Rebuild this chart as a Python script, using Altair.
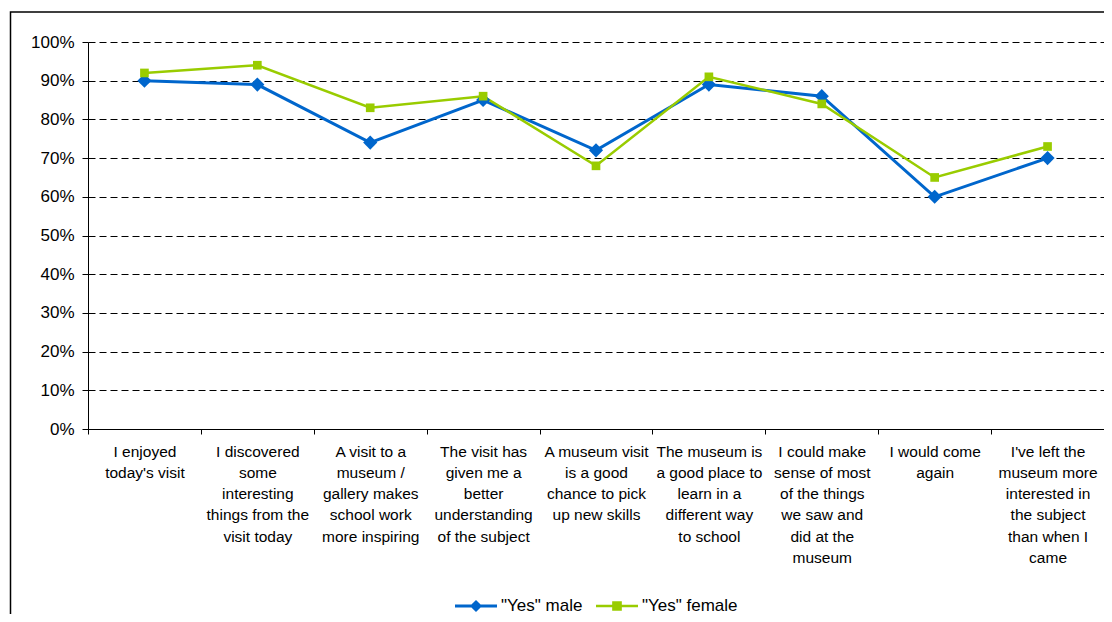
import altair as alt
import pandas as pd

# ---- data ----
category_lines = [
    ["I enjoyed", "today's visit"],
    ["I discovered", "some", "interesting", "things from the", "visit today"],
    ["A visit to a", "museum /", "gallery makes", "school work", "more inspiring"],
    ["The visit has", "given me a", "better", "understanding", "of the subject"],
    ["A museum visit", "is a good", "chance to pick", "up new skills"],
    ["The museum is", "a good place to", "learn in a", "different way", "to school"],
    ["I could make", "sense of most", "of the things", "we saw and", "did at the", "museum"],
    ["I would come", "again"],
    ["I've left the", "museum more", "interested in", "the subject", "than when I", "came"],
]
categories = ["|".join(lines) for lines in category_lines]

series_names = ['"Yes" male', '"Yes" female']
male_values = [0.90, 0.89, 0.74, 0.85, 0.72, 0.89, 0.86, 0.60, 0.70]
female_values = [0.92, 0.94, 0.83, 0.86, 0.68, 0.91, 0.84, 0.65, 0.73]
y_tick_values = [0.0, 0.1, 0.2, 0.3, 0.4, 0.5, 0.6, 0.7, 0.8, 0.9, 1.0]

series_colors = ["#0066CC", "#99CC00"]
marker_shapes = ["diamond", "square"]
marker_sizes = [200, 75]
line_widths = [3, 2.5]
legend_shapes = [
    "M-1,-0.07L1,-0.07L1,0.07L-1,0.07Z M0,-0.29L0.29,0L0,0.29L-0.29,0Z",
    "M-1,-0.06L1,-0.06L1,0.06L-1,0.06Z M-0.23,-0.23L0.23,-0.23L0.23,0.23L-0.23,0.23Z",
]

rows = []
for name, vals in zip(series_names, [male_values, female_values]):
    for cat, v in zip(categories, vals):
        rows.append({"category": cat, "series": name, "value": v})
df = pd.DataFrame(rows)

FONT = "Liberation Sans"

x_enc = alt.X(
    "category:N",
    sort=categories,
    scale=alt.Scale(type="band", paddingInner=0, paddingOuter=0),
    axis=alt.Axis(
        title=None,
        labelAngle=0,
        labelExpr="split(datum.label, '|')",
        tickBand="extent",
        grid=False,
        domainColor="#000000",
        domainWidth=1,
        tickColor="#000000",
        tickSize=5,
        labelFont=FONT,
        labelFontSize=15.5,
        labelColor="#000000",
        labelLineHeight=21.3,
        labelPadding=10,
        labelBaseline="top",
        labelOverlap=False,
        labelLimit=300,
    ),
)
y_enc = alt.Y(
    "value:Q",
    scale=alt.Scale(domain=[0, 1], nice=False),
    axis=alt.Axis(
        title=None,
        values=y_tick_values,
        format=".0%",
        grid=True,
        gridColor="#000000",
        gridDash=[7, 4],
        gridWidth=1,
        domainColor="#000000",
        domainWidth=1,
        tickColor="#000000",
        tickSize=6,
        labelPadding=8,
        labelFont=FONT,
        labelFontSize=17,
        labelColor="#000000",
    ),
)

color_scale = alt.Scale(domain=series_names, range=series_colors)

base = alt.Chart(df)

lines = base.mark_line().encode(
    x=x_enc,
    y=y_enc,
    color=alt.Color("series:N", scale=color_scale, legend=None),
    strokeWidth=alt.StrokeWidth(
        "series:O", scale=alt.Scale(domain=series_names, range=line_widths), legend=None
    ),
)

points = base.mark_point(filled=True, opacity=1).encode(
    x=x_enc,
    y=y_enc,
    color=alt.Color("series:N", scale=color_scale, legend=None),
    shape=alt.Shape(
        "series:N", scale=alt.Scale(domain=series_names, range=marker_shapes), legend=None
    ),
    size=alt.Size(
        "series:O", scale=alt.Scale(domain=series_names, range=marker_sizes), legend=None
    ),
)

legend_def = alt.Legend(
    title=None,
    orient="none",
    legendX=367,
    legendY=543,
    direction="horizontal",
    padding=0,
    symbolSize=1764,
    symbolStrokeWidth=0,
    labelOffset=4,
    columnPadding=13,
    labelFont=FONT,
    labelFontSize=17,
    labelColor="#000000",
)

legend_layer = base.transform_filter("datum.value < 0").mark_point(
    filled=True, opacity=1
).encode(
    x=x_enc,
    y=y_enc,
    color=alt.Color("series:N", scale=color_scale, legend=legend_def),
    shape=alt.Shape(
        "series:N", scale=alt.Scale(domain=series_names, range=legend_shapes), legend=legend_def
    ),
)

frame = alt.Chart(alt.Data(values=[{"frame": 1}])).mark_rect(
    fill="#ffffff", fillOpacity=0, stroke="#000000", strokeWidth=1.5, clip=False
).encode(
    x=alt.value(-77.5), x2=alt.value(1400), y=alt.value(-30), y2=alt.value(900)
)

chart = (
    alt.layer(frame, lines, points, legend_layer)
    .resolve_scale(color="independent", shape="independent")
    .properties(
        width=1016,
        height=387,
        padding={"left": 80, "top": 34, "right": 0, "bottom": 185},
        autosize=alt.AutoSizeParams(type="none"),
        background="#ffffff",
    )
    .configure_view(stroke="transparent")
)

chart.save("out.html", embed_options={"renderer": "svg", "actions": False})
